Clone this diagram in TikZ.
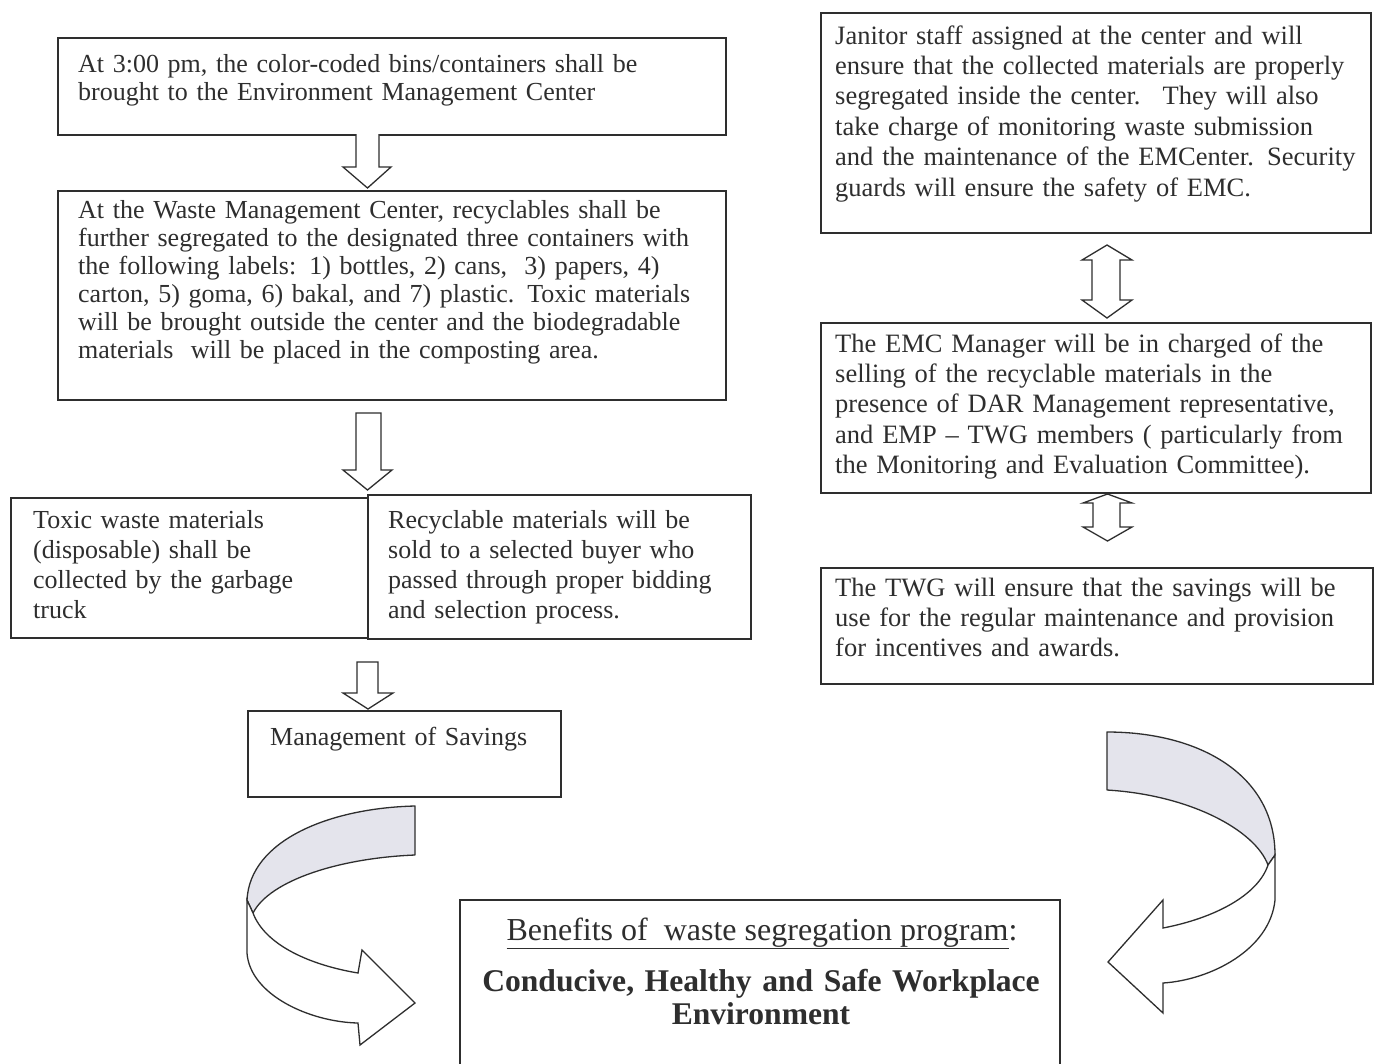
\documentclass[tikz,border=0pt]{standalone}
\usepackage{fontspec}
\setmainfont{Liberation Serif}
\definecolor{ink}{HTML}{2E2E2E}
\definecolor{bandgray}{HTML}{E4E4EC}
\begin{document}
\begin{tikzpicture}[x=1pt,y=-1pt,
  box/.style={draw=ink, line width=1.6pt, rectangle, inner sep=0pt, anchor=north west},
  txtL/.style={anchor=base west, inner sep=0pt, text=ink, text width=720pt, align=left, font=\fontsize{26}{28}\selectfont},
  txtM/.style={anchor=base west, inner sep=0pt, text=ink, text width=720pt, align=left, font=\fontsize{26}{30}\selectfont},
  txtR/.style={anchor=base west, inner sep=0pt, text=ink, text width=720pt, align=left, font=\fontsize{26.5}{30.4}\selectfont},
  barrow/.style={draw=ink, line width=1.3pt, fill=white, line join=miter},
  band/.style={draw=ink, line width=1.3pt, fill=bandgray, line join=round},
  front/.style={draw=ink, line width=1.3pt, fill=white, line join=miter}
]
\useasboundingbox (0,0) rectangle (1378,1063);
\fill[white] (0,0) rectangle (1378,1063);

% boxes
\node[box, minimum width=668pt, minimum height=97pt] (A) at (57,37) {};
\node[box, minimum width=668pt, minimum height=209pt] (B) at (57,190) {};
\node[box, minimum width=357pt, minimum height=140pt] (C) at (10,497) {};
\node[box, minimum width=383pt, minimum height=144pt] (D) at (367,494) {};
\node[box, minimum width=313pt, minimum height=86pt] (E) at (247,710) {};
\node[box, minimum width=550pt, minimum height=220pt] (F) at (820,12) {};
\node[box, minimum width=550pt, minimum height=170pt] (G) at (820,322) {};
\node[box, minimum width=552pt, minimum height=116pt] (H) at (820,567) {};
\node[box, minimum width=600pt, minimum height=190pt] (I) at (459,899) {};

% texts
\node[txtL] (At) at (78,72) {At 3:00 pm, the color-coded bins/containers shall be\\brought to the Environment Management Center};
\node[txtL] (Bt) at (78,218) {At the Waste Management Center, recyclables shall be\\further segregated to the designated three containers with\\the following labels: 1) bottles, 2) cans,~ 3) papers, 4)\\carton, 5) goma, 6) bakal, and 7) plastic. Toxic materials\\will be brought outside the center and the biodegradable\\materials~ will be placed in the composting area.};
\node[txtM] (Ct) at (33,528) {Toxic waste materials\\(disposable) shall be\\collected by the garbage\\truck};
\node[txtM] (Dt) at (388,528) {Recyclable materials will be\\sold to a selected buyer who\\passed through proper bidding\\and selection process.};
\node[txtL] (Et) at (270,745) {Management of Savings};
\node[txtR] (Ft) at (835,44) {Janitor staff assigned at the center and will\\ensure that the collected materials are properly\\segregated inside the center.~ They will also\\take charge of monitoring waste submission\\and the maintenance of the EMCenter. Security\\guards will ensure the safety of EMC.};
\node[txtR] (Gt) at (835,352) {The EMC Manager will be in charged of the\\selling of the recyclable materials in the\\presence of DAR Management representative,\\and EMP -- TWG members ( particularly from\\the Monitoring and Evaluation Committee).};
\node[txtR] (Ht) at (835,596) {The TWG will ensure that the savings will be\\use for the regular maintenance and provision\\for incentives and awards.};
\node[anchor=base, inner sep=0pt, text=ink, font=\fontsize{32}{33}\selectfont] (It1) at (762,940) {\underline{Benefits of~ waste segregation program}:};
\node[anchor=base, inner sep=0pt, text=ink, text width=600pt, align=center, font=\fontsize{31.6}{33.5}\selectfont\bfseries] (It2) at (761,991) {Conducive, Healthy and Safe Workplace\\Environment};

% block arrows down
\draw[barrow] (356,134) -- (356,167) -- (343,167) -- (367.5,188) -- (391,167) -- (379,167) -- (379,134);
\draw[barrow] (356,413) -- (356,470) -- (343,470) -- (367.5,490) -- (392,470) -- (381,470) -- (381,413) -- cycle;
\draw[barrow] (357,662) -- (357,693) -- (343,693) -- (368,709) -- (393,693) -- (378,693) -- (378,662) -- cycle;

% double arrows
\draw[barrow] (1107,245) -- (1132,260) -- (1120,260) -- (1120,300) -- (1132,300) -- (1107,318) -- (1082,300) -- (1092,300) -- (1092,260) -- (1082,260) -- cycle;
\draw[barrow] (1107.5,494) -- (1132,503) -- (1120,503) -- (1120,527) -- (1132,527) -- (1107.5,541) -- (1083,527) -- (1093,527) -- (1093,503) -- (1083,503) -- cycle;

% left curved arrow
\draw[band] (415,806) .. controls (330,808) and (250,840) .. (247,900) -- (253,913) .. controls (270,880) and (340,858) .. (415,855) -- cycle;
\draw[front] (247,900) -- (247,953) .. controls (250,995) and (310,1022) .. (358,1023) -- (360,1045) -- (415,1003) -- (362,950) -- (358,973) .. controls (310,965) and (265,945) .. (253,913) -- cycle;

% right curved arrow
\draw[band] (1107,732) .. controls (1200,732) and (1275,775) .. (1275,855) -- (1268,865) .. controls (1255,830) and (1190,795) .. (1107,790) -- cycle;
\draw[front] (1275,855) -- (1275,900) .. controls (1270,950) and (1210,980) .. (1163,983) -- (1163,1013) -- (1108,962) -- (1163,900) -- (1163,928) .. controls (1215,918) and (1258,895) .. (1268,865) -- cycle;
\end{tikzpicture}
\end{document}
